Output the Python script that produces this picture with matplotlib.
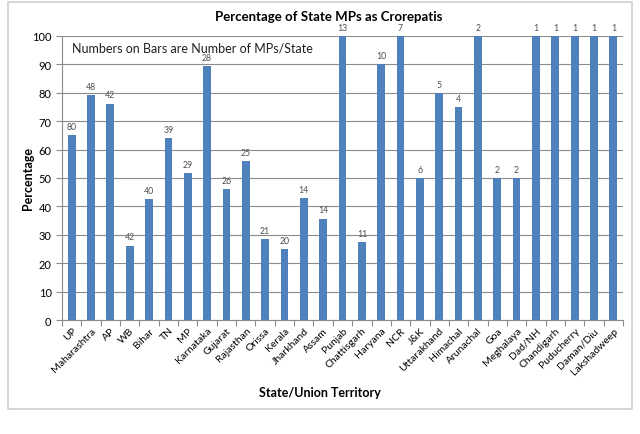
import matplotlib.pyplot as plt
from matplotlib.patches import Rectangle

plt.rcParams['font.family'] = ['Lato', 'DejaVu Sans']

# Data
states = ['UP', 'Maharashtra', 'AP', 'WB', 'Bihar', 'TN', 'MP', 'Karnataka',
          'Gujarat', 'Rajasthan', 'Orissa', 'Kerala', 'Jharkhand', 'Assam',
          'Punjab', 'Chattisgarh', 'Haryana', 'NCR', 'J&K', 'Uttarakhand',
          'Himachal', 'Arunachal', 'Goa', 'Meghalaya', 'Dad/NH', 'Chandigarh',
          'Puducherry', 'Daman/Diu', 'Lakshadweep']
percent = [65, 79.2, 76.2, 26.2, 42.5, 64.1, 51.7, 89.3, 46.2, 56, 28.6, 25,
           42.9, 35.7, 100, 27.3, 90, 100, 50, 80, 75, 100, 50, 50, 100, 100,
           100, 100, 100]
num_mps = [80, 48, 42, 42, 40, 39, 29, 28, 26, 25, 21, 20, 14, 14, 13, 11, 10,
           7, 6, 5, 4, 2, 2, 2, 1, 1, 1, 1, 1]

fig = plt.figure(figsize=(6.4, 4.35), dpi=100)
fig.patches.append(Rectangle((8 / 640, 1 - 410 / 435), 624 / 640, 407 / 435,
                             transform=fig.transFigure, fill=False,
                             edgecolor='#d0d0d0', linewidth=1.2))

ax = fig.add_axes([62 / 640, 1 - 321 / 435, 561 / 640, 284 / 435])
x = range(len(states))
ax.bar(x, percent, width=0.4, color='#4f81bd', zorder=3)
for xi, p, n in zip(x, percent, num_mps):
    ax.text(xi, p + 1.5, str(n), ha='center', va='bottom', fontsize=6.3,
            color='#505050')

ax.set_xlim(-0.5, len(states) - 0.5)
ax.set_ylim(0, 100)
ax.set_yticks(range(0, 101, 10))
ax.yaxis.grid(True, color='#8c8c8c', linewidth=0.8, zorder=0)
ax.set_xticks([i - 0.5 for i in range(len(states) + 1)], minor=False)
ax.set_xticklabels([])
ax.set_xticks(list(x), minor=True)
ax.set_xticklabels(states, minor=True, rotation=45, ha='right',
                   rotation_mode='anchor', fontsize=7.5)
ax.tick_params(axis='x', which='minor', length=0, pad=4)
ax.tick_params(axis='x', which='major', length=4, color='#8c8c8c')
ax.tick_params(axis='y', length=4, color='#8c8c8c', labelsize=8)
for s in ['top', 'right']:
    ax.spines[s].set_visible(False)
ax.spines['left'].set_color('#8c8c8c')
ax.spines['bottom'].set_color('#8c8c8c')

ax.text(10 / 561, 0.96, 'Numbers on Bars are Number of MPs/State',
        transform=ax.transAxes, fontsize=9, va='center', ha='left',
        color='#202020')

fig.text(0.513, 1 - 17 / 435, 'Percentage of State MPs as Crorepatis',
         ha='center', va='center', fontsize=9.5, fontweight='bold')
fig.text(0.5, 1 - 393 / 435, 'State/Union Territory', ha='center',
         va='center', fontsize=9, fontweight='bold')
fig.text(28 / 640, 1 - 179 / 435, 'Percentage', ha='center', va='center',
         rotation=90, fontsize=9, fontweight='bold')

fig.savefig('out.png', dpi=100)
